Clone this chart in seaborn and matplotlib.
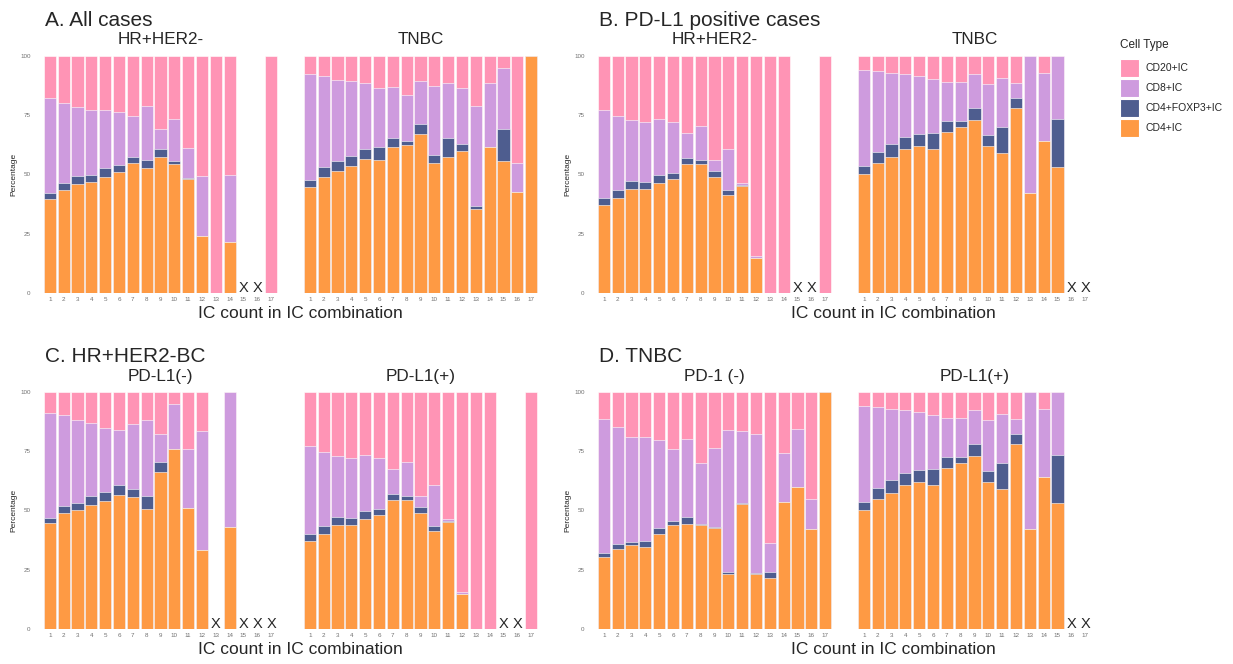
import numpy as np
import pandas as pd
import seaborn as sns
import matplotlib
matplotlib.use("Agg")
import matplotlib.pyplot as plt
from matplotlib.patches import Rectangle

nan = np.nan

# x categories: number of immune cell types in the combination
ic_labels = [str(i) for i in range(1, 18)]

# legend order (top of stack first)
cell_types = ["CD20+IC", "CD8+IC", "CD4+FOXP3+IC", "CD4+IC"]
palette = {"CD20+IC": "#FF94B5", "CD8+IC": "#CE9BDE",
           "CD4+FOXP3+IC": "#4E5D8F", "CD4+IC": "#FE9A44"}

# A. All cases - HR+HER2-
all_hr_cd4 = [39.8, 43.3, 46.0, 46.8, 49.1, 51.1, 54.9, 52.7, 57.5, 54.3, 48.2, 23.9, 0, 21.4, nan, nan, 0]
all_hr_foxp3 = [2.4, 3.1, 3.2, 3.1, 3.5, 3.0, 2.6, 3.3, 3.3, 1.3, 0.3, 0, 0, 0, nan, nan, 0]
all_hr_cd8 = [40.1, 33.8, 29.3, 27.5, 24.8, 22.3, 17.3, 22.8, 8.3, 18.0, 12.7, 25.6, 0, 28.5, nan, nan, 0]

# A. All cases - TNBC
all_tn_cd4 = [44.9, 49.1, 51.5, 53.6, 56.4, 56.1, 61.4, 62.4, 66.9, 54.7, 57.5, 59.9, 35.5, 61.7, 55.7, 42.5, 100]
all_tn_foxp3 = [2.8, 3.9, 4.2, 4.2, 4.3, 5.5, 4.1, 1.8, 4.2, 3.5, 7.7, 2.9, 1.0, 0, 13.3, 0, 0]
all_tn_cd8 = [44.9, 38.4, 34.3, 31.5, 27.7, 24.7, 21.3, 19.3, 18.2, 29.2, 23.4, 23.7, 42.3, 26.7, 26.0, 12.5, 0]

# PD-L1 positive - HR+HER2-
pos_hr_cd4 = [37.3, 40.2, 43.9, 43.9, 46.4, 48.0, 54.6, 54.6, 48.9, 41.5, 45.0, 14.6, 0, 0, nan, nan, 0]
pos_hr_foxp3 = [2.6, 3.1, 3.2, 2.8, 3.4, 2.6, 2.2, 1.5, 2.4, 2.0, 0.6, 0, 0, 0, nan, nan, 0]
pos_hr_cd8 = [37.5, 31.2, 26.0, 25.6, 23.5, 21.6, 10.9, 14.5, 5.0, 17.3, 1.0, 1.0, 0, 0, nan, nan, 0]

# PD-L1 positive - TNBC
pos_tn_cd4 = [50.4, 54.9, 57.4, 60.6, 62.2, 60.6, 67.9, 69.9, 72.9, 62.2, 59.1, 78.2, 42.1, 64.1, 53.2, nan, nan]
pos_tn_foxp3 = [3.0, 4.5, 5.3, 5.1, 5.0, 6.9, 4.5, 2.8, 5.2, 4.5, 10.8, 4.1, 0, 0, 20.1, nan, nan]
pos_tn_cd8 = [40.5, 34.1, 30.3, 26.7, 24.4, 22.8, 16.8, 16.3, 14.3, 21.5, 20.7, 6.2, 57.9, 28.7, 26.7, nan, nan]

# HR+HER2-BC PD-L1(-)
neg_hr_cd4 = [44.6, 49.1, 50.2, 52.5, 53.9, 56.5, 55.6, 50.5, 66.1, 75.8, 51.0, 33.3, nan, 42.9, nan, nan, nan]
neg_hr_foxp3 = [2.1, 2.9, 3.0, 3.5, 3.8, 4.3, 3.5, 5.5, 4.4, 0, 0, 0, nan, 0, nan, nan, nan]
neg_hr_cd8 = [44.6, 38.3, 35.0, 30.8, 27.2, 23.2, 27.5, 32.3, 11.6, 19.1, 24.8, 50.1, nan, 57.1, nan, nan, nan]

# TNBC PD-1 (-)
neg_tn_cd4 = [30.5, 33.8, 35.4, 34.6, 40.2, 43.7, 44.3, 44.0, 42.5, 23.1, 52.6, 23.2, 21.7, 53.4, 59.9, 42.3, 100]
neg_tn_foxp3 = [1.7, 2.1, 1.4, 2.4, 2.3, 1.9, 3.0, 0.3, 0.4, 0.9, 0.6, 0.6, 2.2, 0, 0, 0, 0]
neg_tn_cd8 = [56.3, 49.2, 44.4, 43.9, 37.2, 30.3, 32.9, 25.7, 33.5, 60.0, 30.3, 58.6, 12.2, 20.9, 24.3, 12.7, 0]

sns.set_style("white")
plt.rcParams["font.family"] = ["Liberation Sans", "DejaVu Sans"]

W, H = 1233, 664
fig = plt.figure(figsize=(W / 100, H / 100), dpi=100)


def draw_panel(left_px, top_px, cd4, foxp3, cd8, subtitle, first):
    ax = fig.add_axes([left_px / W, 1 - (top_px + 237) / H, 235 / W, 237 / H])
    df = pd.DataFrame({"ic": ic_labels, "CD4+IC": cd4,
                       "CD4+FOXP3+IC": foxp3, "CD8+IC": cd8})
    df["CD20+IC"] = 100 - df[["CD4+IC", "CD4+FOXP3+IC", "CD8+IC"]].sum(axis=1, skipna=False)
    # bottom -> top stacking order, drawn as cumulative layers
    stack = ["CD4+IC", "CD4+FOXP3+IC", "CD8+IC", "CD20+IC"]
    tops = df[stack].cumsum(axis=1)
    for layer in reversed(stack):
        sns.barplot(x=df["ic"], y=tops[layer], order=ic_labels,
                    color=palette[layer], saturation=1, width=0.88,
                    edgecolor="white", linewidth=0.4, errorbar=None, ax=ax)
    # mark categories without data
    for i, v in enumerate(cd4):
        if np.isnan(v):
            ax.text(i, 0.3, "X", ha="center", va="baseline", fontsize=10.5)
    ax.set_ylim(0, 100)
    ax.set_xlim(-0.5, 16.5)
    ax.set_yticks([0, 25, 50, 75, 100])
    ax.set_xlabel("")
    ax.tick_params(axis="both", length=0, labelsize=4.5, labelcolor="#707070")
    ax.tick_params(axis="x", pad=3)
    ax.tick_params(axis="y", pad=9)
    if first:
        ax.set_ylabel("Percentage", fontsize=6)
        ax.yaxis.set_label_coords(-0.11, 0.5)
    else:
        ax.set_ylabel("")
        ax.tick_params(axis="y", labelleft=False)
    for s in ax.spines.values():
        s.set_visible(False)
    ax.grid(False)
    fig.text((left_px + 117.5) / W, 1 - (top_px - 16) / H, subtitle,
             ha="center", va="center", fontsize=12.3)
    return ax


lefts = [43, 303, 597, 857]
row_tops = [56, 392]

draw_panel(lefts[0], row_tops[0], all_hr_cd4, all_hr_foxp3, all_hr_cd8, "HR+HER2-", True)
draw_panel(lefts[1], row_tops[0], all_tn_cd4, all_tn_foxp3, all_tn_cd8, "TNBC", False)
draw_panel(lefts[2], row_tops[0], pos_hr_cd4, pos_hr_foxp3, pos_hr_cd8, "HR+HER2-", True)
draw_panel(lefts[3], row_tops[0], pos_tn_cd4, pos_tn_foxp3, pos_tn_cd8, "TNBC", False)
draw_panel(lefts[0], row_tops[1], neg_hr_cd4, neg_hr_foxp3, neg_hr_cd8, "PD-L1(-)", True)
draw_panel(lefts[1], row_tops[1], pos_hr_cd4, pos_hr_foxp3, pos_hr_cd8, "PD-L1(+)", False)
draw_panel(lefts[2], row_tops[1], neg_tn_cd4, neg_tn_foxp3, neg_tn_cd8, "PD-1 (-)", True)
draw_panel(lefts[3], row_tops[1], pos_tn_cd4, pos_tn_foxp3, pos_tn_cd8, "PD-L1(+)", False)

# group titles and shared x labels
group_titles = ["A. All cases", "B. PD-L1 positive cases", "C. HR+HER2-BC", "D. TNBC"]
for k, t in enumerate(group_titles):
    row, col = divmod(k, 2)
    fig.text((lefts[2 * col] + 2) / W, 1 - (row_tops[row] - 36) / H, t,
             ha="left", va="center", fontsize=15)
    xc = [300, 893][col]
    fig.text(xc / W, 1 - (row_tops[row] + 237 + 21) / H, "IC count in IC combination",
             ha="center", va="center", fontsize=12.5)

# legend
fig.text(1120 / W, 1 - 45 / H, "Cell Type", ha="left", va="center", fontsize=8.5)
for j, ct in enumerate(cell_types):
    yc = 68 + 20 * j
    fig.add_artist(Rectangle((1120 / W, 1 - (yc + 9) / H), 19 / W, 18 / H,
                             transform=fig.transFigure, facecolor=palette[ct],
                             edgecolor="white", linewidth=0.8))
    fig.text(1146 / W, 1 - yc / H, ct, ha="left", va="center", fontsize=7.5)

fig.savefig("out.png", dpi=100)
